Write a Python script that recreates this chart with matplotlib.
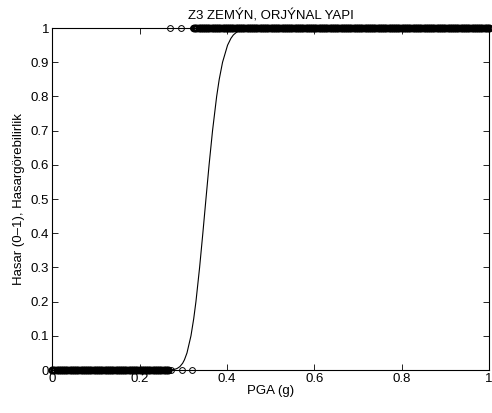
import numpy as np
import matplotlib
matplotlib.use('Agg')
import matplotlib.pyplot as plt

plt.rcParams['font.family'] = ['Liberation Sans', 'DejaVu Sans']

# hasar durumu: 0 (hasarsiz) kayitlar - yogun bolge
pga_hasar0 = [0.000, 0.005, 0.010, 0.015, 0.020, 0.025, 0.030, 0.035, 0.040, 0.045,
              0.050, 0.055, 0.060, 0.065, 0.070, 0.075, 0.080, 0.085, 0.090, 0.095,
              0.100, 0.105, 0.110, 0.115, 0.120, 0.125, 0.130, 0.135, 0.140, 0.145,
              0.150, 0.155, 0.160, 0.165, 0.170, 0.175, 0.180, 0.185, 0.190, 0.195,
              0.200, 0.205, 0.210, 0.215, 0.220, 0.225, 0.230, 0.235, 0.240, 0.245,
              0.250, 0.255, 0.260, 0.265]
# hasar durumu: 0 - tek tek gorunen kayitlar
pga_hasar0_tek = [0.272, 0.298, 0.320]
# hasar durumu: 1 (hasarli) kayitlar - tek tek gorunenler
pga_hasar1_tek = [0.270, 0.295, 0.323]
# hasar durumu: 1 - yogun bolge
pga_hasar1 = [0.325, 0.330, 0.335, 0.340, 0.345, 0.350, 0.355, 0.360, 0.365, 0.370,
              0.375, 0.380, 0.385, 0.390, 0.395, 0.400, 0.405, 0.410, 0.415, 0.420,
              0.425, 0.430, 0.435, 0.440, 0.445, 0.450, 0.455, 0.460, 0.465, 0.470,
              0.475, 0.480, 0.485, 0.490, 0.495, 0.500, 0.505, 0.510, 0.515, 0.520,
              0.525, 0.530, 0.535, 0.540, 0.545, 0.550, 0.555, 0.560, 0.565, 0.570,
              0.575, 0.580, 0.585, 0.590, 0.595, 0.600, 0.605, 0.610, 0.615, 0.620,
              0.625, 0.630, 0.635, 0.640, 0.645, 0.650, 0.655, 0.660, 0.665, 0.670,
              0.675, 0.680, 0.685, 0.690, 0.695, 0.700, 0.705, 0.710, 0.715, 0.720,
              0.725, 0.730, 0.735, 0.740, 0.745, 0.750, 0.755, 0.760, 0.765, 0.770,
              0.775, 0.780, 0.785, 0.790, 0.795, 0.800, 0.805, 0.810, 0.815, 0.820,
              0.825, 0.830, 0.835, 0.840, 0.845, 0.850, 0.855, 0.860, 0.865, 0.870,
              0.875, 0.880, 0.885, 0.890, 0.895, 0.900, 0.905, 0.910, 0.915, 0.920,
              0.925, 0.930, 0.935, 0.940, 0.945, 0.950, 0.955, 0.960, 0.965, 0.970,
              0.975, 0.980, 0.985, 0.990, 0.995, 1.000]

# hasargorebilirlik egrisi (grafikten okunan noktalar)
egri_pga = [0.000, 0.260, 0.275, 0.2826, 0.2865, 0.2923, 0.2987, 0.3028, 0.3086,
            0.3177, 0.3240, 0.3291, 0.3375, 0.3449, 0.3520, 0.3592, 0.3671, 0.3765,
            0.3824, 0.3900, 0.4015, 0.4092, 0.4148, 0.4241, 0.4324, 0.4385, 0.4507,
            0.470, 1.000]
egri_p = [0.000, 0.000, 0.001, 0.003, 0.005, 0.010, 0.020, 0.030, 0.050,
          0.100, 0.150, 0.200, 0.300, 0.400, 0.500, 0.600, 0.700, 0.800,
          0.850, 0.900, 0.950, 0.970, 0.980, 0.990, 0.995, 0.997, 0.999,
          1.000, 1.000]

xticks = [0, 0.2, 0.4, 0.6, 0.8, 1]
xticklabels = ['0', '0.2', '0.4', '0.6', '0.8', '1']
yticks = [0, 0.1, 0.2, 0.3, 0.4, 0.5, 0.6, 0.7, 0.8, 0.9, 1]
yticklabels = ['0', '0.1', '0.2', '0.3', '0.4', '0.5', '0.6', '0.7', '0.8', '0.9', '1']

fig = plt.figure(figsize=(4.92, 4.13), dpi=100)
ax = fig.add_axes([0.106, 0.104, 0.888, 0.828])

# yogun bolgeler koyu gorunsun diye kalin kenarli
ax.plot(pga_hasar0, np.zeros(len(pga_hasar0)), 'o', mfc='none', mec='k',
        ms=4.2, mew=1.6, clip_on=False, zorder=3)
ax.plot(pga_hasar1, np.ones(len(pga_hasar1)), 'o', mfc='none', mec='k',
        ms=4.2, mew=1.6, clip_on=False, zorder=3)
ax.plot(pga_hasar0_tek, np.zeros(len(pga_hasar0_tek)), 'o', mfc='none', mec='k',
        ms=4.2, mew=0.7, clip_on=False, zorder=3)
ax.plot(pga_hasar1_tek, np.ones(len(pga_hasar1_tek)), 'o', mfc='none', mec='k',
        ms=4.2, mew=0.7, clip_on=False, zorder=3)
ax.plot(egri_pga, egri_p, '-', color='k', lw=0.8, zorder=2)

ax.set_xlim(0, 1)
ax.set_ylim(0, 1)
ax.set_xticks(xticks)
ax.set_xticklabels(xticklabels)
ax.set_yticks(yticks)
ax.set_yticklabels(yticklabels)
ax.tick_params(direction='in', length=4, width=0.6, labelsize=9.5, pad=2,
               top=True, right=True)
for s in ax.spines.values():
    s.set_linewidth(0.8)

ax.set_title('Z3 ZEMÝN, ORJÝNAL YAPI', fontsize=9.5, pad=6)
ax.set_xlabel('PGA (g)', fontsize=9.5, labelpad=0)
ax.set_ylabel('Hasar (0–1), Hasargörebilirlik', fontsize=9.5, labelpad=4)

fig.savefig('out.png', dpi=100)
